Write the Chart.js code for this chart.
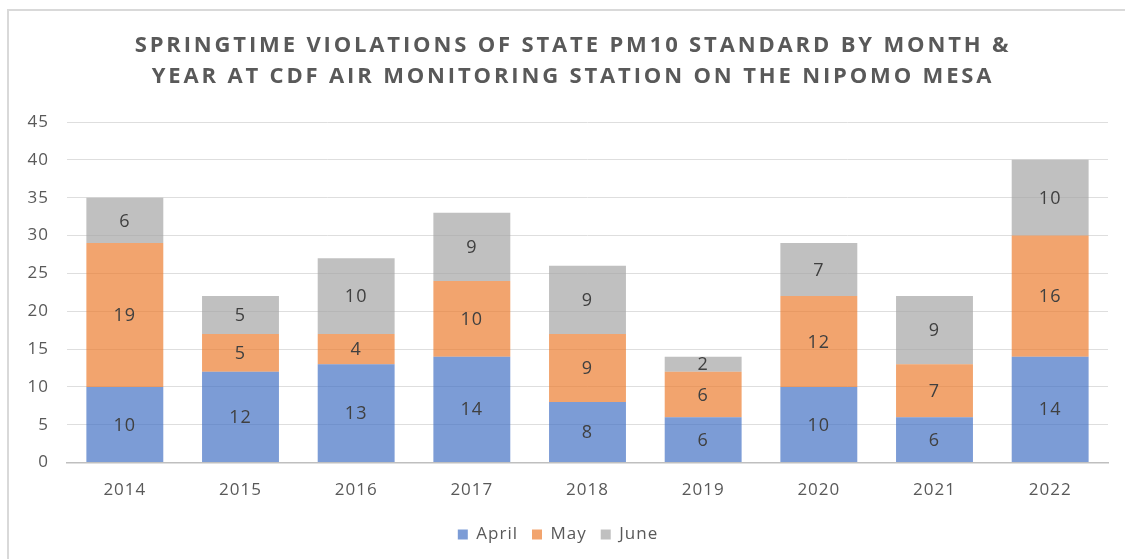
<!DOCTYPE html>
<html>
<head>
<meta charset="utf-8">
<script src="https://cdn.jsdelivr.net/npm/chart.js@4"></script>
<style>
  html, body { margin: 0; padding: 0; background: #fff; }
  #frame { position: absolute; left: 7px; top: 9px; width: 1140px; height: 570px; border: 2px solid #d9d9d9; }
  #wrap { position: absolute; left: 0; top: 0; width: 1125px; height: 559px; }
</style>
</head>
<body>
<div id="frame"></div>
<div id="wrap"><canvas id="chart"></canvas></div>
<script>
const years = ['2014', '2015', '2016', '2017', '2018', '2019', '2020', '2021', '2022'];
const april = [10, 12, 13, 14, 8, 6, 10, 6, 14];
const may = [19, 5, 4, 10, 9, 6, 12, 7, 16];
const june = [6, 5, 10, 9, 9, 2, 7, 9, 10];
const titleLines = [
  'SPRINGTIME VIOLATIONS OF STATE PM10 STANDARD BY MONTH &',
  'YEAR AT CDF AIR MONITORING STATION ON THE NIPOMO MESA'
];

const FONT = '"Open Sans", sans-serif';

// Excel-ish spacing between letters; canvas resets its state on resize so set it each pass
const spacing = {
  id: 'spacing',
  beforeLayout(chart) { chart.ctx.letterSpacing = '1px'; },
  beforeDraw(chart) { chart.ctx.letterSpacing = '1px'; }
};

// two-line title, wider tracking than chart.js title allows
const wideTitle = {
  id: 'wideTitle',
  afterDraw(chart) {
    const ctx = chart.ctx;
    ctx.save();
    ctx.letterSpacing = '2.85px';
    ctx.font = '700 22px ' + FONT;
    ctx.fillStyle = '#595959';
    ctx.textAlign = 'center';
    ctx.textBaseline = 'middle';
    ctx.fillText(titleLines[0], 573, 46);
    ctx.fillText(titleLines[1], 573, 77);
    ctx.restore();
  }
};

// value in the middle of each segment
const segmentLabels = {
  id: 'segmentLabels',
  afterDatasetsDraw(chart) {
    const ctx = chart.ctx;
    ctx.save();
    ctx.font = '18px ' + FONT;
    ctx.fillStyle = '#404040';
    ctx.textAlign = 'center';
    ctx.textBaseline = 'middle';
    chart.data.datasets.forEach((ds, i) => {
      const meta = chart.getDatasetMeta(i);
      meta.data.forEach((bar, j) => {
        const mid = (bar.y + bar.base) / 2;
        ctx.fillText(String(ds.data[j]), bar.x, mid + 1);
      });
    });
    ctx.restore();
  }
};

const ctx = document.getElementById('chart').getContext('2d');
new Chart(ctx, {
  type: 'bar',
  data: {
    labels: years,
    datasets: [
      { label: 'April', data: april, backgroundColor: 'rgba(68, 114, 196, 0.7)' },
      { label: 'May', data: may, backgroundColor: 'rgba(237, 125, 49, 0.7)' },
      { label: 'June', data: june, backgroundColor: 'rgba(165, 165, 165, 0.7)' }
    ]
  },
  options: {
    responsive: true,
    maintainAspectRatio: false,
    animation: false,
    datasets: { bar: { categoryPercentage: 0.665, barPercentage: 1 } },
    layout: { padding: { left: 8, right: 17, top: 122, bottom: 6 } },
    plugins: {
      title: { display: false },
      legend: {
        position: 'bottom',
        labels: {
          color: '#595959',
          font: { family: FONT, size: 17 },
          boxWidth: 10,
          boxHeight: 10,
          padding: 14
        }
      },
      tooltip: { enabled: false }
    },
    scales: {
      x: {
        stacked: true,
        grid: { display: false },
        border: { color: '#bfbfbf', width: 1.5 },
        ticks: { color: '#595959', font: { family: FONT, size: 17 }, padding: 9 },
        afterFit(scale) { scale.height += 3; }
      },
      y: {
        stacked: true,
        min: 0,
        max: 45,
        ticks: { stepSize: 5, color: '#595959', font: { family: FONT, size: 17 }, padding: 18 },
        grid: { color: '#dedede', drawTicks: false },
        border: { display: false },
        afterFit(scale) { scale.width = 59; }
      }
    }
  },
  plugins: [spacing, wideTitle, segmentLabels]
});
</script>
</body>
</html>
